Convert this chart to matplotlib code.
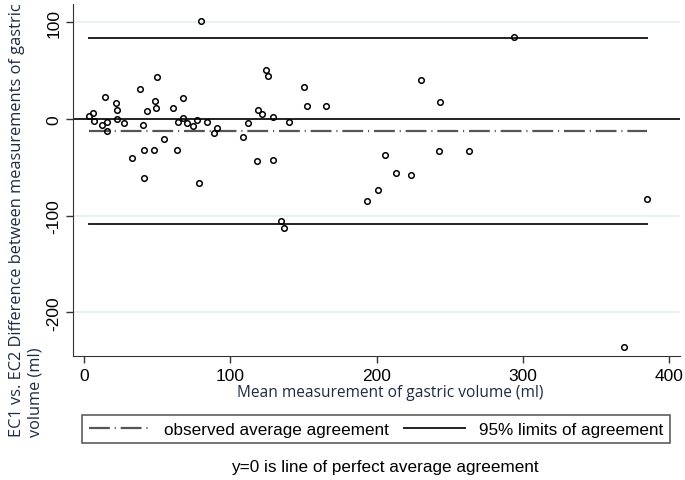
import matplotlib.pyplot as plt
import numpy as np

plt.rcParams['font.family'] = ['Liberation Sans', 'DejaVu Sans']
plt.rcParams['lines.scale_dashes'] = False

# mean of the two measurements (ml)
mean_vol = [3.6, 6.4, 7.0, 12.1, 14.4, 15.5, 15.5, 21.7, 22.8, 22.8,
            27.4, 32.6, 38.3, 40.5, 41.2, 41.0, 42.9, 47.9, 48.5, 49.2,
            49.7, 54.9, 60.6, 63.4, 64.5, 67.5, 67.9, 70.6, 74.3, 77.5,
            78.6, 80.0, 83.9, 88.9, 90.7, 108.5, 112.3, 118.1, 118.8, 121.9,
            124.4, 125.6, 129.0, 129.4, 134.5, 136.8, 140.4, 150.4, 152.3, 165.5,
            294.0, 230.2, 243.4, 206.0, 243.0, 263.5, 213.3, 223.4, 200.8, 193.3,
            384.8, 369.2]
# difference EC1 - EC2 (ml)
diff_vol = [2.8, 6.2, -1.8, -6.2, 22.5, -3.4, -12.1, 16.3, 9.6, 0.0,
            -4.1, -40.7, 31.1, -6.2, -31.8, -61.1, 8.6, -31.8, 19.0, 11.4,
            43.8, -20.7, 11.1, -31.8, -2.8, 21.7, 0.7, -4.1, -6.9, -0.7,
            -66.3, 101.2, -3.4, -14.5, -9.3, -18.3, -4.1, -43.8, 9.6, 5.2,
            50.7, 44.2, 1.8, -42.8, -105.9, -112.8, -2.8, 32.8, 13.1, 13.1,
            84.6, 40.1, 17.3, -37.0, -32.8, -32.8, -55.6, -58.3, -73.2, -84.2,
            -82.8, -235.5]

mean_diff = -12.1
upper_loa = 83.8
lower_loa = -108.6

xticks = [0, 100, 200, 300, 400]
yticks = [100, 0, -100, -200]

fig = plt.figure(figsize=(6.85, 4.81), dpi=100)
ax = fig.add_axes([73/685, 1-357/481, 607/685, 352/481])

for yt in yticks:
    ax.axhline(yt, color='#e6eff1', lw=1.2, zorder=0)

x_lo, x_hi = min(mean_vol), max(mean_vol)
ax.plot([x_lo, x_hi], [mean_diff, mean_diff], color='#555555', lw=1.6,
        dashes=(15, 3.5, 0.8, 3.5), label='observed average agreement')
ax.plot([x_lo, x_hi], [upper_loa, upper_loa], color='#222222', lw=1.4,
        label='95% limits of agreement')
ax.plot([x_lo, x_hi], [lower_loa, lower_loa], color='#222222', lw=1.4)
ax.axhline(0, color='#222222', lw=1.4)

ax.plot(mean_vol, diff_vol, 'o', mfc='none', mec='black', ms=4, mew=1.1)

ax.set_xlim(-7.5, 407.5)
ax.set_ylim(-245, 119)
ax.set_xticks(xticks)
ax.set_yticks(yticks)
ax.set_yticklabels([str(t) for t in yticks], rotation=90, va='center')
ax.tick_params(labelsize=12.5, length=5, width=1, color='#333333')
for s in ['top', 'right']:
    ax.spines[s].set_visible(False)
for s in ['left', 'bottom']:
    ax.spines[s].set_color('#333333')

ax.set_xlabel('Mean measurement of gastric volume (ml)', fontsize=11.2,
              family=['Open Sans', 'DejaVu Sans'], color='#1e2a44')
ax.xaxis.set_label_coords((390-73)/607, -28/352)
fig.text(0.013, 1-437/481, 'EC1 vs. EC2 Difference between measurements of gastric\nvolume (ml)',
         rotation=90, ha='left', va='bottom', multialignment='left', fontsize=11.8,
         family=['Open Sans', 'DejaVu Sans'], color='#1e2a44', linespacing=1.2)

leg = fig.legend(loc='center', bbox_to_anchor=(376/685, 1-430/481), ncol=2,
                 fontsize=12.3, frameon=True, fancybox=False, shadow=False,
                 edgecolor='#333333', handlelength=3.6, handletextpad=0.8,
                 columnspacing=0.9, borderpad=0.4)
leg.get_frame().set_linewidth(1.2)

fig.text(385/685, 1-468/481, 'y=0 is line of perfect average agreement',
         ha='center', va='center', fontsize=12.3)

fig.savefig('out.png', dpi=100)
